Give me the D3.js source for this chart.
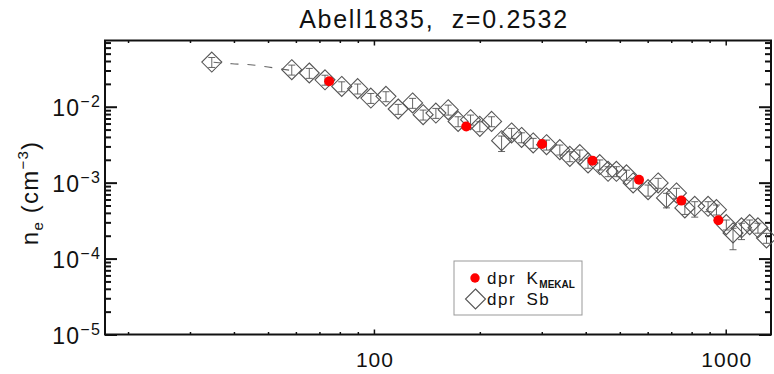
<!DOCTYPE html>
<html>
<head>
<meta charset="utf-8">
<script src="https://cdn.jsdelivr.net/npm/d3@7"></script>
<style>
html,body{margin:0;padding:0;background:#fff;}
svg{display:block;font-family:"Liberation Sans",Arial,sans-serif;}
</style>
</head>
<body>
<svg id="chart" width="774" height="374"></svg>
<script>
// ---- data ----
const titleText = "Abell1835,  z=0.2532";
const xTickLabels = [100, 1000];
const yTickExps = [-5, -4, -3, -2];

// dpr Sb (diamonds): radius and density
const sbR = [34.6, 58.4, 65.5, 72.6, 81.0, 89.9, 98.0, 108.2, 117.2, 128.8, 138.0, 150.0, 162.6, 173.5, 188.2, 200.0, 216.0, 230.6, 246.2, 262.9, 283.6, 309.5, 337.6, 360.5, 384.8, 406.1, 438.5, 463.0, 489.0, 522.4, 545.5, 601.6, 642.6, 678.6, 724.4, 765.3, 816.6, 891.1, 941.3, 1004, 1049, 1109, 1170, 1235, 1306];
const sbNe = [0.0387, 0.0307, 0.0278, 0.0226, 0.0185, 0.0173, 0.0130, 0.0137, 0.00933, 0.0112, 0.00785, 0.00826, 0.00913, 0.00641, 0.00675, 0.00551, 0.00641, 0.00357, 0.00451, 0.00394, 0.00333, 0.00316, 0.00272, 0.00222, 0.00234, 0.00182, 0.00173, 0.00141, 0.00141, 0.00127, 0.000991, 0.000809, 0.000991, 0.000629, 0.000732, 0.000465, 0.000488, 0.000488, 0.000441, 0.000280, 0.000218, 0.000254, 0.000280, 0.000254, 0.000187];
const sbErrLo = [0.15,0.15,0.15,0.15,0.15,0.15,0.15,0.15,0.15,0.15,0.15,0.15,0.15,0.15,0.15,0.15,0.15,0.28,0.15,0.15,0.15,0.15,0.15,0.15,0.15,0.15,0.15,0.15,0.15,0.15,0.15,0.18,0.15,0.26,0.15,0.18,0.28,0.15,0.15,0.15,0.40,0.30,0.15,0.15,0.15];
const sbErrHi = [0.15,0.15,0.15,0.15,0.15,0.15,0.15,0.15,0.15,0.15,0.15,0.15,0.15,0.15,0.15,0.15,0.15,0.15,0.15,0.15,0.15,0.15,0.15,0.15,0.15,0.15,0.15,0.15,0.15,0.15,0.15,0.15,0.15,0.15,0.15,0.15,0.15,0.15,0.15,0.15,0.15,0.15,0.15,0.15,0.15];

// dpr K_MEKAL (red dots)
const kR = [74.6, 183, 300.6, 418, 567, 748, 953];
const kNe = [0.0216, 0.0055, 0.00323, 0.00195, 0.00109, 0.00058, 0.000319];

// dashed fit (inner part, visible)
const fitR = [35, 39.5, 44.5, 50.0, 54.8, 58.4];
const fitNe = [0.0385, 0.0368, 0.0357, 0.0333, 0.0313, 0.0300];

// ---- layout ----
const L = 105, R = 771, T = 40.5, B = 334.5;
const svg = d3.select("#chart");

const x = d3.scaleLog().domain([17.2, 1345]).range([L, R]);
const y = d3.scaleLog().domain([1e-5, 0.0745]).range([B, T]);

const xMajor = xTickLabels;
const xMinor = [];
[10, 100, 1000].forEach(d => { for (let k = 2; k <= 9; k++) { const v = d * k; if (v > 17.2 && v < 1345) xMinor.push(v); } });
const yMajor = yTickExps.map(e => Math.pow(10, e));
const yMinor = [];
[1e-5, 1e-4, 1e-3, 1e-2].forEach(d => { for (let k = 2; k <= 9; k++) { const v = d * k; if (v < 0.0745) yMinor.push(v); } });

const axisColor = "#111";
const FONT = "Liberation Sans, Arial, sans-serif";
function styleAxis(g, w) {
  g.select(".domain").remove();
  g.selectAll(".tick line").attr("stroke", axisColor).attr("stroke-width", w);
}

// bottom
svg.append("g").attr("transform", `translate(0,${B})`)
  .call(d3.axisBottom(x).tickValues(xMinor).tickSizeInner(-2.5).tickSizeOuter(0).tickFormat(""))
  .call(g => styleAxis(g, 1.5));
const xb = svg.append("g").attr("transform", `translate(0,${B})`)
  .call(d3.axisBottom(x).tickValues(xMajor).tickSizeInner(-5).tickSizeOuter(0).tickPadding(18).tickFormat(d => String(d)))
  .call(g => styleAxis(g, 1.5));
xb.selectAll(".tick text").attr("font-size", 21).attr("fill", "#111").attr("font-family", FONT)
  .attr("letter-spacing", 1).attr("dx", 0.5);
// top
svg.append("g").attr("transform", `translate(0,${T})`)
  .call(d3.axisTop(x).tickValues(xMinor).tickSizeInner(-2.5).tickSizeOuter(0).tickFormat(""))
  .call(g => styleAxis(g, 1.5));
svg.append("g").attr("transform", `translate(0,${T})`)
  .call(d3.axisTop(x).tickValues(xMajor).tickSizeInner(-5).tickSizeOuter(0).tickFormat(""))
  .call(g => styleAxis(g, 1.5));
// left
svg.append("g").attr("transform", `translate(${L},0)`)
  .call(d3.axisLeft(y).tickValues(yMinor).tickSizeInner(-6).tickSizeOuter(0).tickFormat(""))
  .call(g => styleAxis(g, 2));
const yl = svg.append("g").attr("transform", `translate(${L},0)`)
  .call(d3.axisLeft(y).tickValues(yMajor).tickSizeInner(-12).tickSizeOuter(0).tickPadding(4).tickFormat(""))
  .call(g => styleAxis(g, 2));
yl.selectAll(".tick text").each(function(d, i) {
  const t = d3.select(this).attr("font-size", 23).attr("fill", "#111").attr("dy", "0.38em")
    .attr("font-family", FONT).attr("letter-spacing", 1.2);
  t.append("tspan").text("10");
  t.append("tspan").attr("font-size", 16).attr("dy", -9).text("\u2212" + Math.abs(yTickExps[i]));
});
// right
svg.append("g").attr("transform", `translate(${R},0)`)
  .call(d3.axisRight(y).tickValues(yMinor).tickSizeInner(-6).tickSizeOuter(0).tickFormat(""))
  .call(g => styleAxis(g, 2));
svg.append("g").attr("transform", `translate(${R},0)`)
  .call(d3.axisRight(y).tickValues(yMajor).tickSizeInner(-12).tickSizeOuter(0).tickFormat(""))
  .call(g => styleAxis(g, 2));

// frame
svg.append("rect").attr("x", L).attr("y", T).attr("width", R - L).attr("height", B - T)
  .attr("fill", "none").attr("stroke", axisColor).attr("stroke-width", 2);

// dashed fit
const fitData = fitR.map((r, i) => ({ r, n: fitNe[i] }));
svg.append("path").datum(fitData)
  .attr("d", d3.line().x(d => x(d.r)).y(d => y(d.n)).curve(d3.curveMonotoneX))
  .attr("fill", "none").attr("stroke", "#666").attr("stroke-width", 1.1).attr("stroke-dasharray", "8,9");

// diamonds with error bars
const sbData = sbR.map((r, i) => ({ r, n: sbNe[i], lo: sbNe[i] * (1 - sbErrLo[i]), hi: sbNe[i] * (1 + sbErrHi[i]) }));
const dg = svg.append("g");
const dia = 10;
sbData.forEach(d => {
  const cx = x(d.r), cy = y(d.n);
  const g = dg.append("g");
  g.append("line").attr("x1", cx).attr("x2", cx).attr("y1", y(d.lo)).attr("y2", y(d.hi))
    .attr("stroke", "#555").attr("stroke-width", 0.9);
  [d.lo, d.hi].forEach(v => g.append("line").attr("x1", cx - 3.5).attr("x2", cx + 3.5).attr("y1", y(v)).attr("y2", y(v))
    .attr("stroke", "#555").attr("stroke-width", 0.9));
  g.append("path").attr("d", `M${cx},${cy - dia}L${cx + dia},${cy}L${cx},${cy + dia}L${cx - dia},${cy}Z`)
    .attr("fill", "none").attr("stroke", "#555").attr("stroke-width", 1.1);
});

// red dots
svg.append("g").selectAll("circle").data(kR.map((r, i) => ({ r, n: kNe[i] }))).join("circle")
  .attr("cx", d => x(d.r)).attr("cy", d => y(d.n)).attr("r", 5).attr("fill", "#ff0000");

// title
svg.append("text").attr("x", 434).attr("y", 28).attr("text-anchor", "middle")
  .attr("font-size", 25).attr("letter-spacing", 1.7).attr("fill", "#111").style("white-space", "pre").text(titleText);

// y label
const ylab = svg.append("text").attr("transform", "translate(38,193) rotate(-90)").attr("text-anchor", "middle")
  .attr("font-size", 24).attr("letter-spacing", 1.2).attr("fill", "#111").style("white-space", "pre");
ylab.append("tspan").text("n");
ylab.append("tspan").attr("font-size", 15).attr("dy", 5).text("e");
ylab.append("tspan").attr("dy", -5).text(" (cm");
ylab.append("tspan").attr("font-size", 15).attr("dy", -10).text("\u22123");
ylab.append("tspan").attr("dy", 10).text(")");

// legend
const lg = svg.append("g");
lg.append("rect").attr("x", 454).attr("y", 261).attr("width", 128).attr("height", 54)
  .attr("fill", "#fff").attr("stroke", "#999").attr("stroke-width", 1);
lg.append("circle").attr("cx", 475).attr("cy", 278).attr("r", 4.7).attr("fill", "#ff0000");
const t1 = lg.append("text").attr("x", 487).attr("y", 283.5).attr("font-size", 17).attr("letter-spacing", 1.5).attr("fill", "#111");
t1.append("tspan").text("dpr");
t1.append("tspan").attr("x", 526.5).text("K");
t1.append("tspan").attr("font-size", 10).attr("letter-spacing", 0).attr("font-weight", "bold").attr("dy", 4.5).text("MEKAL");
const lx = 475.5, ly = 299, ld = 10;
lg.append("path").attr("d", `M${lx},${ly - ld}L${lx + ld},${ly}L${lx},${ly + ld}L${lx - ld},${ly}Z`)
  .attr("fill", "none").attr("stroke", "#555").attr("stroke-width", 1.1);
const t2 = lg.append("text").attr("x", 487).attr("y", 304.5).attr("font-size", 17).attr("letter-spacing", 1.5).attr("fill", "#111");
t2.append("tspan").text("dpr");
t2.append("tspan").attr("x", 526.5).text("Sb");
</script>
</body>
</html>
